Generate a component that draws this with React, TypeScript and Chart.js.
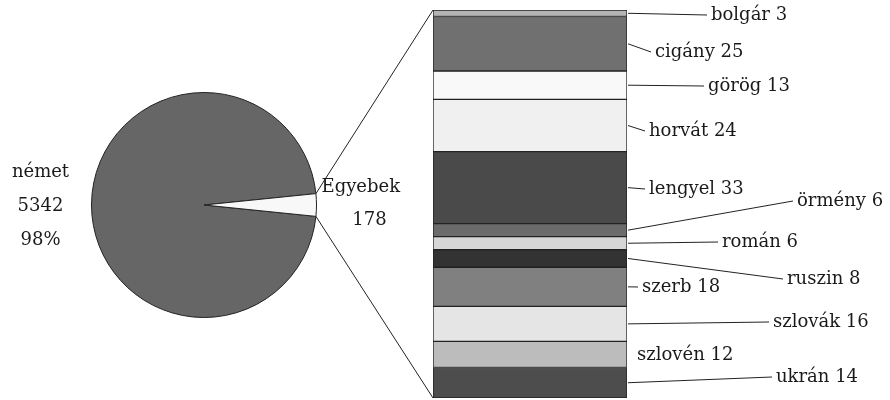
import React, { useEffect, useRef } from 'react';
import { Chart, registerables } from 'chart.js';

Chart.register(...registerables);

// ---- Pie data ----
const pieLabels = ['német', 'Egyebek'];
const pieValues = [5342, 178];
const pieShareText = ['98%', ''];
const pieColors = ['#666666', '#f8f8f8'];

// ---- Breakdown of "Egyebek" ----
const groups = ['bolgár', 'cigány', 'görög', 'horvát', 'lengyel', 'örmény', 'román', 'ruszin', 'szerb', 'szlovák', 'szlovén', 'ukrán'];
const counts = [3, 25, 13, 24, 33, 6, 6, 8, 18, 16, 12, 14];
const barColors = ['#b4b4b4', '#707070', '#f9f9f9', '#f0f0f0', '#4a4a4a', '#6b6b6b', '#d6d6d6', '#333333', '#808080', '#e5e5e5', '#bcbcbc', '#4d4d4d'];

// ---- Label layout (pixels) ----
const labelX = [711, 655, 708, 649, 649, 797, 722, 787, 642, 773, 637, 776];
const labelY = [15, 52, 86, 131, 189, 201, 242, 279, 287, 322, 355, 377];
const hasLeader = [true, true, true, true, true, true, true, true, true, true, false, true];

const FONT = "18px 'DejaVu Serif'";
const TEXT = '#1a1a1a';
const LINE = '#222222';

export default function App() {
  const pieRef = useRef<HTMLCanvasElement>(null);
  const barRef = useRef<HTMLCanvasElement>(null);

  useEffect(() => {
    document.body.style.margin = '0';
    const total = pieValues.reduce((a, b) => a + b, 0);
    const otherAngle = (pieValues[1] / total) * 360;

    const pieLabelPlugin = {
      id: 'pieLabels',
      afterDraw(chart: any) {
        const ctx = chart.ctx;
        const arc = chart.getDatasetMeta(0).data[1] as any;
        const cx = arc.x;
        const cy = arc.y;
        const r = arc.outerRadius;
        ctx.save();
        ctx.font = FONT;
        ctx.fillStyle = TEXT;
        ctx.textBaseline = 'middle';
        ctx.textAlign = 'center';
        const lx = cx - r - 51;
        ctx.fillText(pieLabels[0], lx, cy - 33);
        ctx.fillText(String(pieValues[0]), lx, cy + 1);
        ctx.fillText(pieShareText[0], lx, cy + 35);
        ctx.textAlign = 'left';
        ctx.fillText(pieLabels[1], cx + r + 5, cy - 18);
        ctx.textAlign = 'center';
        ctx.fillText(String(pieValues[1]), cx + r + 53, cy + 15);
        ctx.restore();
      },
    };

    const pie = new Chart(pieRef.current as HTMLCanvasElement, {
      type: 'pie',
      data: {
        labels: pieLabels,
        datasets: [
          {
            data: pieValues,
            backgroundColor: pieColors,
            borderColor: LINE,
            borderWidth: 1,
          },
        ],
      },
      options: {
        responsive: false,
        animation: false,
        rotation: 90 + otherAngle / 2,
        layout: { padding: { left: 91, right: 573, top: 92, bottom: 82 } },
        plugins: { legend: { display: false }, tooltip: { enabled: false } },
      },
      plugins: [pieLabelPlugin],
    });

    const barLabelPlugin = {
      id: 'barLabels',
      afterDraw(chart: any) {
        const ctx = chart.ctx;
        const area = chart.chartArea;
        ctx.save();
        ctx.strokeStyle = LINE;
        ctx.lineWidth = 1;
        // connectors from the pie slice to the bar
        const arc = pie.getDatasetMeta(0).data[1] as any;
        const r = arc.outerRadius;
        const p1x = arc.x + r * Math.cos(arc.startAngle);
        const p1y = arc.y + r * Math.sin(arc.startAngle);
        const p2x = arc.x + r * Math.cos(arc.endAngle);
        const p2y = arc.y + r * Math.sin(arc.endAngle);
        ctx.beginPath();
        ctx.moveTo(p1x, p1y);
        ctx.lineTo(area.left, area.top);
        ctx.moveTo(p2x, p2y);
        ctx.lineTo(area.left, area.bottom);
        ctx.stroke();

        ctx.font = FONT;
        ctx.fillStyle = TEXT;
        ctx.textBaseline = 'middle';
        ctx.textAlign = 'left';
        groups.forEach((g, i) => {
          const el = chart.getDatasetMeta(i).data[0] as any;
          const right = el.x + el.width / 2;
          const midY = (el.y + el.base) / 2;
          if (hasLeader[i]) {
            ctx.beginPath();
            ctx.moveTo(right + 1, midY);
            ctx.lineTo(labelX[i] - 4, labelY[i]);
            ctx.stroke();
          }
          ctx.fillText(`${g} ${counts[i]}`, labelX[i], labelY[i]);
        });
        ctx.restore();
      },
    };

    const sum = counts.reduce((a, b) => a + b, 0);
    const bar = new Chart(barRef.current as HTMLCanvasElement, {
      type: 'bar',
      data: {
        labels: [''],
        datasets: groups.map((g, i) => ({
          label: g,
          data: [counts[i]],
          backgroundColor: barColors[i],
          borderColor: LINE,
          borderWidth: 1,
          borderSkipped: false,
          barPercentage: 1,
          categoryPercentage: 1,
        })),
      },
      options: {
        responsive: false,
        animation: false,
        layout: { padding: { left: 433, right: 263, top: 10, bottom: 2 } },
        scales: {
          x: { stacked: true, display: false },
          y: { stacked: true, display: false, min: 0, max: sum, reverse: true },
        },
        plugins: { legend: { display: false }, tooltip: { enabled: false } },
      },
      plugins: [barLabelPlugin],
    });

    return () => {
      bar.destroy();
      pie.destroy();
    };
  }, []);

  return (
    <div style={{ position: 'relative', width: 890, height: 400, background: '#fff' }}>
      <canvas ref={pieRef} width={890} height={400} style={{ position: 'absolute', left: 0, top: 0 }} />
      <canvas ref={barRef} width={890} height={400} style={{ position: 'absolute', left: 0, top: 0 }} />
    </div>
  );
}
